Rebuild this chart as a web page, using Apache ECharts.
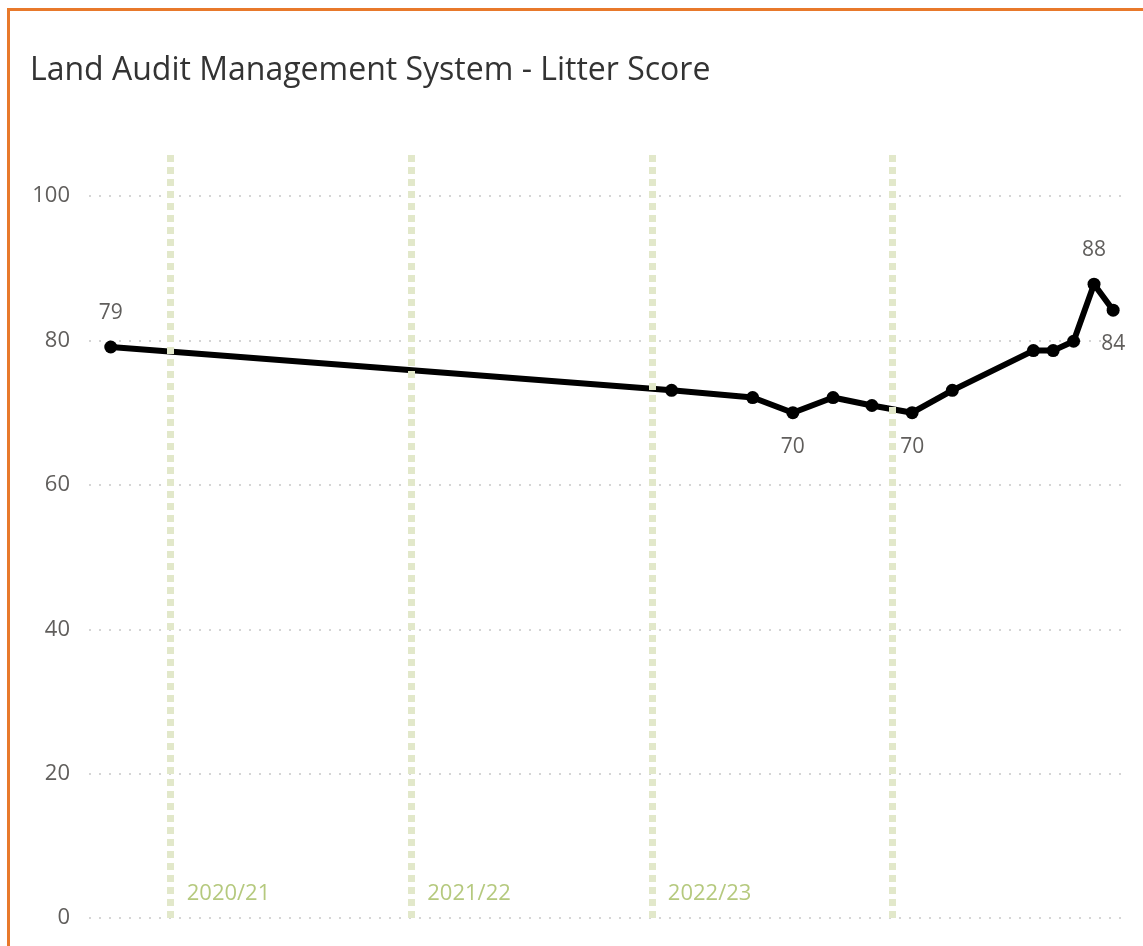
<!DOCTYPE html>
<html>
<head>
<meta charset="utf-8">
<script src="https://cdn.jsdelivr.net/npm/echarts@6/dist/echarts.min.js"></script>
<style>
  html, body { margin: 0; padding: 0; background: #fff; overflow: hidden; }
  #main { width: 1143px; height: 946px; }
  #frame {
    position: absolute; left: 7px; top: 8px; width: 1300px; height: 1100px;
    border-left: 3px solid #E8792B; border-top: 3px solid #E8792B;
    pointer-events: none;
  }
</style>
</head>
<body>
<div id="main"></div>
<div id="frame"></div>
<script>
// audit dates and litter scores
var dates = ['2020-01-01', '2022-05-01', '2022-09-01', '2022-11-01', '2023-01-01', '2023-03-01',
             '2023-05-01', '2023-07-01', '2023-11-01', '2023-12-01', '2024-01-01', '2024-02-01', '2024-03-01'];
var scores = [79.1, 73.1, 72.1, 70.0, 72.1, 71.0, 70.0, 73.1, 78.6, 78.6, 79.9, 87.8, 84.2];
// which points get a data label, and where
var labelPos = ['top', null, null, 'bottom', null, null, 'bottom', null, null, null, null, 'top', 'bottom'];

// financial year starts
var yearStarts = ['2020-04-01', '2021-04-01', '2022-04-01', '2023-04-01'];
var yearLabels = ['2020/21', '2021/22', '2022/23', ''];

var yTicks = [0, 20, 40, 60, 80, 100];

var chart = echarts.init(document.getElementById('main'));

var lineData = dates.map(function (d, i) {
    var item = { value: [d, scores[i]] };
    if (labelPos[i]) {
        item.label = { show: true, position: labelPos[i] };
    }
    return item;
});

var yearData = yearStarts.map(function (d, i) {
    return { value: [d, 3.4], label: { formatter: yearLabels[i] } };
});

var option = {
    animation: false,
    textStyle: { fontFamily: 'Open Sans' },
    title: {
        text: 'Land Audit Management System - Litter Score',
        left: 25, top: 50,
        textStyle: { fontFamily: 'Open Sans', fontSize: 32, fontWeight: 'normal', color: '#333' }
    },
    grid: { left: 89, right: 18, top: 155, bottom: 946 - 918 },
    xAxis: {
        type: 'time',
        min: '2019-11-29',
        max: '2024-03-19',
        axisLine: { show: false },
        axisTick: { show: false },
        axisLabel: { show: false },
        splitLine: { show: false }
    },
    yAxis: {
        type: 'value',
        min: 0,
        max: 105.7,
        interval: 20,
        axisLine: { show: false },
        axisTick: { show: false },
        axisLabel: {
            showMaxLabel: false,
            margin: 19,
            fontSize: 22,
            color: '#605E5C',
            formatter: function (v) { return yTicks.indexOf(v) >= 0 ? v : ''; }
        },
        splitLine: {
            showMaxLine: false,
            lineStyle: { type: [2, 8], color: '#c8c8c8', width: 1.5 }
        }
    },
    series: [
        {
            type: 'scatter',
            z: 1,
            symbolSize: 0,
            silent: true,
            data: yearData,
            label: {
                show: true,
                position: 'right',
                distance: 16,
                fontSize: 22,
                color: '#A3BB5E'
            },
            markLine: {
                silent: true,
                symbol: 'none',
                label: { show: false },
                lineStyle: { type: [7, 5], color: '#E2E8CA', width: 7 },
                data: yearStarts.map(function (d) { return { xAxis: d }; })
            }
        },
        {
            type: 'line',
            z: 3,
            data: lineData,
            symbol: 'circle',
            symbolSize: 13,
            itemStyle: { color: '#000' },
            lineStyle: { color: '#000', width: 6 },
            label: {
                show: false,
                distance: 17,
                fontSize: 21,
                color: '#605E5C',
                formatter: function (p) { return Math.round(p.value[1]); }
            }
        }
    ]
};

chart.setOption(option);
</script>
</body>
</html>
